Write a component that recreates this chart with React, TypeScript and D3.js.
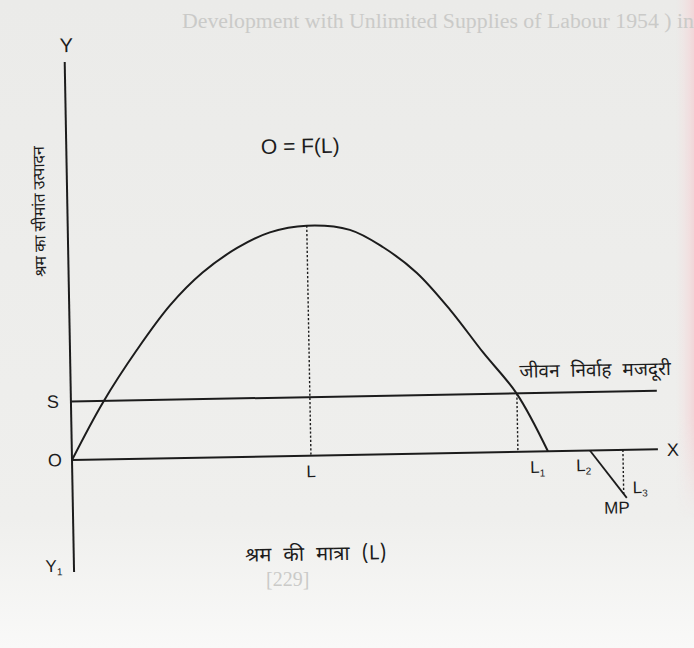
import React from "react";
import * as d3 from "d3";

// Total product curve O = F(L): labour input vs output
const labour = [0, 32, 67, 101, 134, 169, 202, 239, 282, 315, 348, 381, 413, 446, 476];
const output = [0, 57, 109, 153, 185, 209, 224, 230, 225, 207, 181, 143, 100, 58, 0];

// Subsistence wage level (S) and marked labour quantities
const subsistence = 58.5;
const markL = 239;
const markL1 = 446;
const markL3 = 551;
// Marginal product line segment below the axis
const mpLabour = [518, 554];
const mpOutput = [0, -48];

const axisXEnd = 586;
const axisYTop = 398;
const axisYBottom = -112;

const W = 694;
const H = 648;

const latin = "'Liberation Sans', Arial, sans-serif";
const deva = "'Noto Sans Devanagari', 'Lohit Devanagari', 'Mukta', 'FreeSans', 'Noto Sans', sans-serif";

export default function App() {
  const x = d3.scaleLinear().domain([0, 600]).range([0, 600]);
  const y = d3.scaleLinear().domain([0, 400]).range([0, -400]);

  const pts = labour.map((l, i) => [l, output[i]] as [number, number]);
  const curve = d3
    .line<[number, number]>()
    .x((d) => x(d[0]))
    .y((d) => y(d[1]))
    .curve(d3.curveCatmullRom.alpha(0.5))(pts);

  const mpPath = d3
    .line<[number, number]>()
    .x((d) => x(d[0]))
    .y((d) => y(d[1]))(mpLabour.map((l, i) => [l, mpOutput[i]] as [number, number]));

  const mpAt = (l: number) =>
    mpOutput[0] + ((l - mpLabour[0]) / (mpLabour[1] - mpLabour[0])) * (mpOutput[1] - mpOutput[0]);

  const ink = "#1c1c1c";
  const dots = "2.2,2";

  return (
    <svg
      width={W}
      height={H}
      style={{ position: "absolute", left: 0, top: 0 }}
      xmlns="http://www.w3.org/2000/svg"
    >
      <defs>
        <linearGradient id="paper" x1="0" y1="0" x2="0" y2="1">
          <stop offset="0" stopColor="#ebebe9" />
          <stop offset="0.8" stopColor="#efefed" />
          <stop offset="1" stopColor="#f9f9f8" />
        </linearGradient>
        <linearGradient id="edge" x1="0" y1="0" x2="1" y2="0">
          <stop offset="0" stopColor="#f4e4e4" stopOpacity="0" />
          <stop offset="1" stopColor="#f1d6d8" />
        </linearGradient>
        <linearGradient id="edgeFade" x1="0" y1="0" x2="0" y2="1">
          <stop offset="0" stopColor="#fff" />
          <stop offset="0.8" stopColor="#fff" />
          <stop offset="1" stopColor="#000" />
        </linearGradient>
        <mask id="edgeMask">
          <rect x={676} y={0} width={18} height={520} fill="url(#edgeFade)" />
        </mask>
      </defs>
      <rect width={W} height={H} fill="url(#paper)" />
      <rect x={676} y={0} width={18} height={520} fill="url(#edge)" mask="url(#edgeMask)" />

      {/* faint printed page text around the figure */}
      <g fill="#cacac8" fontFamily="'Liberation Serif', serif" fontSize={20}>
        <text x={182} y={28} textLength={512} lengthAdjust="spacingAndGlyphs">
          Development with Unlimited Supplies of Labour 1954 ) in
        </text>
        <text x={266} y={586}>[229]</text>
      </g>

      <g transform="translate(72,460) rotate(-1.05)">
        {/* axes */}
        <line x1={x(0)} x2={x(0)} y1={y(axisYTop)} y2={y(axisYBottom)} stroke={ink} strokeWidth={2} />
        <line x1={x(0)} x2={x(axisXEnd)} y1={y(0)} y2={y(0)} stroke={ink} strokeWidth={2} />

        {/* subsistence wage line */}
        <line x1={x(0)} x2={x(axisXEnd)} y1={y(subsistence)} y2={y(subsistence)} stroke={ink} strokeWidth={2} />

        {/* total product curve */}
        <path d={curve ?? ""} fill="none" stroke={ink} strokeWidth={2} />

        {/* marginal product segment */}
        <path d={mpPath ?? ""} fill="none" stroke={ink} strokeWidth={1.8} />

        {/* dotted guides */}
        <line x1={x(markL)} x2={x(markL)} y1={y(230)} y2={y(0)} stroke={ink} strokeWidth={1.4} strokeDasharray={dots} />
        <line x1={x(markL1)} x2={x(markL1)} y1={y(subsistence)} y2={y(0)} stroke={ink} strokeWidth={1.4} strokeDasharray={dots} />
        <line x1={x(markL3)} x2={x(markL3)} y1={y(0)} y2={y(mpAt(markL3))} stroke={ink} strokeWidth={1.4} strokeDasharray={dots} />

        {/* axis letters */}
        <g fill={ink} fontFamily={latin}>
          <text x={x(2)} y={y(415)} fontSize={20} textAnchor="middle" dominantBaseline="central">Y</text>
          <text x={x(-17)} y={y(0)} fontSize={18} textAnchor="middle" dominantBaseline="central">O</text>
          <text x={x(-18)} y={y(subsistence)} fontSize={18} textAnchor="middle" dominantBaseline="central">S</text>
          <text x={x(601)} y={y(-1)} fontSize={18} textAnchor="middle" dominantBaseline="central">X</text>
          <text x={x(-20)} y={y(-106)} fontSize={17} textAnchor="middle" dominantBaseline="central">
            Y<tspan fontSize={10} dy={5}>1</tspan>
          </text>
          <text x={x(markL)} y={y(-16)} fontSize={17} textAnchor="middle" dominantBaseline="central">L</text>
          <text x={x(458)} y={y(-16)} fontSize={17} dominantBaseline="central">
            L<tspan fontSize={10} dy={5}>1</tspan>
          </text>
          <text x={x(504)} y={y(-15)} fontSize={17} dominantBaseline="central">
            L<tspan fontSize={10} dy={5}>2</tspan>
          </text>
          <text x={x(560)} y={y(-38)} fontSize={17} dominantBaseline="central">
            L<tspan fontSize={10} dy={5}>3</tspan>
          </text>
          <text x={x(544)} y={y(-58)} fontSize={17} textAnchor="middle" dominantBaseline="central">MP</text>
          <text x={x(234)} y={y(310)} fontSize={21} textAnchor="middle" dominantBaseline="central">O = F(L)</text>
        </g>

        {/* Hindi labels */}
        <g fill={ink} fontFamily={deva}>
          <text x={x(449)} y={y(74)} fontSize={19} wordSpacing={6}>
            जीवन निर्वाह मजदूरी
          </text>
          <text
            x={x(242)}
            y={y(-100)}
            fontSize={20}
            textAnchor="middle"
            dominantBaseline="central"
            wordSpacing={7}
          >
            श्रम की मात्रा (L)
          </text>
          <text
            transform={`translate(${x(-26)},${y(249)}) rotate(-90)`}
            fontSize={16}
            textAnchor="middle"
            dominantBaseline="central"
          >
            श्रम का सीमांत उत्पादन
          </text>
        </g>
      </g>
    </svg>
  );
}
